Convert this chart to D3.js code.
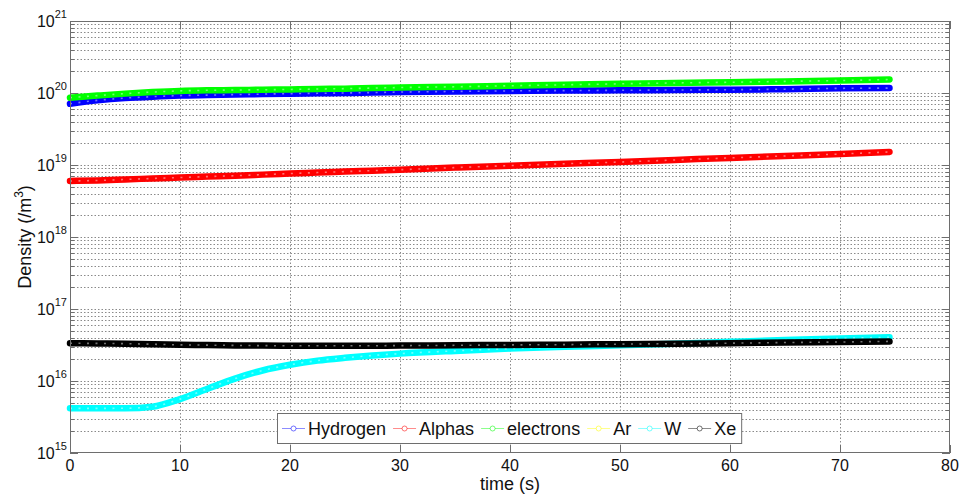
<!DOCTYPE html>
<html><head><meta charset="utf-8">
<script src="https://cdn.jsdelivr.net/npm/d3@7/dist/d3.min.js"></script>
<style>body{margin:0;background:#fff}svg{display:block;font-family:"Liberation Sans",Arial,sans-serif}</style>
</head><body><svg id="c" width="962" height="497"></svg>
<script>
const times = [0,2.5,5,7.5,10,12.5,15,17.5,20,22.5,25,27.5,30,35,40,45,50,55,60,65,70,74.5];
const hydrogen = [0.71,0.79,0.85,0.89,0.92,0.935,0.95,0.965,0.98,0.99,1.0,1.015,1.03,1.05,1.07,1.08,1.09,1.10,1.11,1.13,1.16,1.17].map(v=>v*1e20);
const alphas = [0.60,0.61,0.63,0.65,0.67,0.69,0.71,0.735,0.76,0.785,0.81,0.835,0.86,0.92,0.98,1.04,1.10,1.175,1.255,1.335,1.42,1.52].map(v=>v*1e19);
const electrons = [0.86,0.92,0.98,1.03,1.07,1.09,1.10,1.11,1.12,1.135,1.15,1.17,1.19,1.22,1.26,1.30,1.34,1.38,1.41,1.45,1.49,1.54].map(v=>v*1e20);
const ar = []; // not visible in the plotted range
const w = [0.417,0.417,0.418,0.44,0.56,0.78,1.08,1.40,1.68,1.92,2.10,2.26,2.40,2.62,2.82,2.98,3.13,3.30,3.50,3.70,3.90,4.05].map(v=>v*1e16);
const xe = [3.34,3.33,3.30,3.24,3.18,3.15,3.12,3.10,3.08,3.08,3.08,3.09,3.10,3.13,3.17,3.20,3.25,3.30,3.35,3.42,3.48,3.55].map(v=>v*1e16);
const seriesNames = ["Hydrogen","Alphas","electrons","Ar","W","Xe"];
const seriesColors = ["#0000ff","#ff0000","#00ff00","#ffff00","#00ffff","#000000"];
const seriesValues = [hydrogen, alphas, electrons, ar, w, xe];
const xTicks = [0,10,20,30,40,50,60,70,80];
const yExponents = [15,16,17,18,19,20,21];

const svg = d3.select("#c");
const L=70,R=950,T=21,B=453;
const x = d3.scaleLinear().domain([0,80]).range([L,R]);
const y = d3.scaleLog().domain([1e15,1e21]).range([B,T]);

// grid
const g = svg.append("g");
const minor = [];
for (let e=15;e<21;e++) for (let m=2;m<=9;m++) minor.push(m*Math.pow(10,e));
const gridCol="#8a8a8a";
g.selectAll(".ymin").data(minor).join("line").attr("x1",L).attr("x2",R)
 .attr("y1",d=>Math.round(y(d))+0.5).attr("y2",d=>Math.round(y(d))+0.5)
 .attr("stroke",gridCol).attr("stroke-dasharray","1.5,2").attr("stroke-width",1);
g.selectAll(".ymaj").data(yExponents.slice(1,-1)).join("line").attr("x1",L).attr("x2",R)
 .attr("y1",d=>Math.round(y(Math.pow(10,d)))+0.5).attr("y2",d=>Math.round(y(Math.pow(10,d)))+0.5)
 .attr("stroke",gridCol).attr("stroke-dasharray","1.5,2");
g.selectAll(".xmaj").data(xTicks.slice(1,-1)).join("line")
 .attr("x1",d=>Math.round(x(d))+0.5).attr("x2",d=>Math.round(x(d))+0.5).attr("y1",T).attr("y2",B)
 .attr("stroke",gridCol).attr("stroke-dasharray","1.5,2");

// ticks
const axCol="#6e6e6e";
const tk = svg.append("g").attr("stroke",axCol);
minor.forEach(d=>{const yy=Math.round(y(d))+0.5;
  tk.append("line").attr("x1",L).attr("x2",L+4).attr("y1",yy).attr("y2",yy);
  tk.append("line").attr("x1",R-4).attr("x2",R).attr("y1",yy).attr("y2",yy);});
yExponents.forEach(e=>{const yy=Math.round(y(Math.pow(10,e)))+0.5;
  tk.append("line").attr("x1",L).attr("x2",L+8).attr("y1",yy).attr("y2",yy);
  tk.append("line").attr("x1",R-8).attr("x2",R).attr("y1",yy).attr("y2",yy);});
xTicks.forEach(t=>{const xx=Math.round(x(t))+0.5;
  tk.append("line").attr("x1",xx).attr("x2",xx).attr("y1",B).attr("y2",B-8);
  tk.append("line").attr("x1",xx).attr("x2",xx).attr("y1",T).attr("y2",T+8);});

// lines
const line = d3.line().defined(d=>d[1]!=null).x(d=>x(d[0])).y(d=>y(d[1])).curve(d3.curveMonotoneX);
const lg = svg.append("g");
seriesValues.forEach((vals,i)=>{
  if(!vals.length) return;
  const pts = vals.map((v,j)=>[times[j],v]);
  lg.append("path").attr("d",line(pts)).attr("fill","none").attr("stroke",seriesColors[i])
    .attr("stroke-width",6.5).attr("stroke-linecap","round").attr("stroke-linejoin","round");
  lg.append("path").attr("d",line(pts)).attr("fill","none").attr("stroke","#fff").attr("stroke-opacity",0.45)
    .attr("stroke-width",1.6).attr("stroke-dasharray","2,6.5");
});

// axes box
svg.append("rect").attr("x",L+0.5).attr("y",T+0.5).attr("width",R-L-1).attr("height",B-T-1)
  .attr("fill","none").attr("stroke",axCol);

// tick labels
svg.append("g").selectAll("text").data(xTicks).join("text")
  .attr("x",d=>x(d)).attr("y",471).attr("text-anchor","middle").attr("font-size",16).attr("fill","#111").text(d=>d);
const yl = svg.append("g").selectAll("text").data(yExponents).join("text")
  .attr("x",67).attr("y",d=>y(Math.pow(10,d))+6).attr("text-anchor","end").attr("font-size",16).attr("fill","#111");
yl.append("tspan").text("10");
yl.append("tspan").attr("dy",-9).attr("font-size",11).text(d=>d);

// axis labels
svg.append("text").attr("x",(L+R)/2).attr("y",490).attr("text-anchor","middle").attr("font-size",18).attr("fill","#111").text("time (s)");
const ylab = svg.append("text").attr("transform","translate(31,237) rotate(-90)").attr("text-anchor","middle").attr("font-size",18).attr("fill","#111");
ylab.append("tspan").text("Density (/m");
ylab.append("tspan").attr("dy",-8).attr("font-size",12).text("3");
ylab.append("tspan").attr("dy",8).text(")");

// legend
const leg = svg.append("g");
const lgX=277, lgY=413, lgH=30;
let cx = lgX+5;
seriesNames.forEach((n,i)=>{
  const it = leg.append("g");
  it.append("line").attr("x1",cx).attr("x2",cx+23).attr("y1",lgY+15.5).attr("y2",lgY+15.5).attr("stroke",seriesColors[i]).attr("stroke-opacity",0.45);
  it.append("circle").attr("cx",cx+11.5).attr("cy",lgY+15.5).attr("r",2.5).attr("fill","#fff").attr("stroke",seriesColors[i]).attr("stroke-opacity",0.55);
  const t = it.append("text").attr("x",cx+26).attr("y",lgY+22).attr("font-size",18).attr("fill","#111").text(n);
  cx += 26 + t.node().getComputedTextLength() + (i<seriesNames.length-1?7:5);
});
leg.insert("rect",":first-child").attr("x",lgX+0.5).attr("y",lgY+0.5).attr("width",cx-lgX).attr("height",lgH)
  .attr("fill","#fff").attr("stroke",axCol);
</script></body></html>
